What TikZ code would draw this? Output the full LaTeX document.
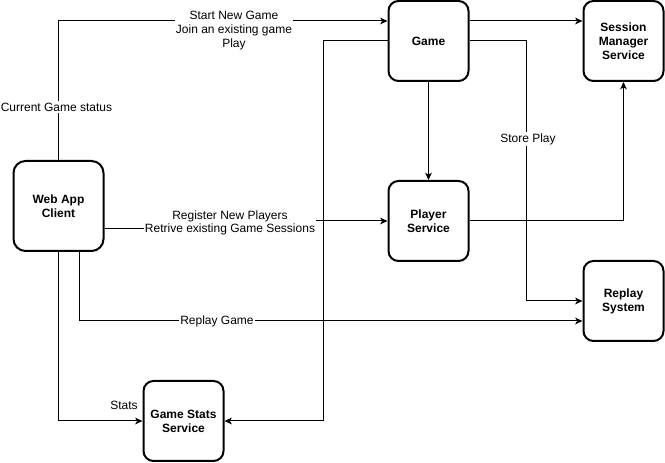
\documentclass[tikz,border=0pt]{standalone}
\usepackage{fontspec}
\setmainfont{Liberation Sans}
\usetikzlibrary{arrows.meta}
\begin{document}
\begin{tikzpicture}[x=0.75pt,y=-0.75pt,
  box/.style={draw, line width=1.5pt, rounded corners=7.5pt, minimum width=60pt, minimum height=60pt,
    inner sep=1pt, align=center, font=\bfseries\fontsize{9}{10.5}\selectfont},
  bigbox/.style={box, minimum width=67.5pt, minimum height=67.5pt, rounded corners=9pt},
  conn/.style={draw, line width=0.75pt, -{Stealth[length=5.5pt,width=5pt,inset=1.5pt]}},
  lab/.style={fill=white, inner sep=1pt, align=center, font=\fontsize{9}{10.2}\selectfont}]
\useasboundingbox (0,0) rectangle (665,463);
\node[bigbox] (web) at (58.5,206) {Web App\\Client};
\node[box] (game) at (428.5,41) {Game};
\node[box] (sess) at (623.5,41) {Session\\Manager\\Service};
\node[box] (player) at (428.5,221) {Player\\Service};
\node[box] (replay) at (623.5,301) {Replay\\System};
\node[box] (stats) at (183.5,421) {Game Stats\\Service};

\draw[conn] (web.north) |- ([yshift=15pt]game.west);
\draw[conn] ([yshift=15pt]game.east) -- ([yshift=15pt]sess.west);
\draw[conn] (game.west) -- (323,41) |- (stats.east);
\draw[conn] (game.east) -- (526,41) |- (replay.west);
\draw[conn] (game.south) -- (player.north);
\draw[conn] ([yshift=-17.25pt]web.east) -- (230,229) -- (230,221) -- (player.west);
\draw[conn] (player.east) -| (sess.south);
\draw[conn] ([xshift=16.1pt]web.south) |- ([yshift=-15pt]replay.west);
\draw[conn] (web.south) |- (stats.west);

\node[lab] (l1) at (234,30.5) {Start New Game\\Join an existing game\\Play};
\node[lab] (l2) at (56.5,107) {Current Game status};
\node[lab] (l3) at (230,223) {Register New Players\\Retrive existing Game Sessions};
\node[lab] (l4) at (528,139) {Store Play};
\node[lab] (l5) at (217,321) {Replay Game};
\node[lab] (l6) at (124,405) {Stats};
\end{tikzpicture}
\end{document}
